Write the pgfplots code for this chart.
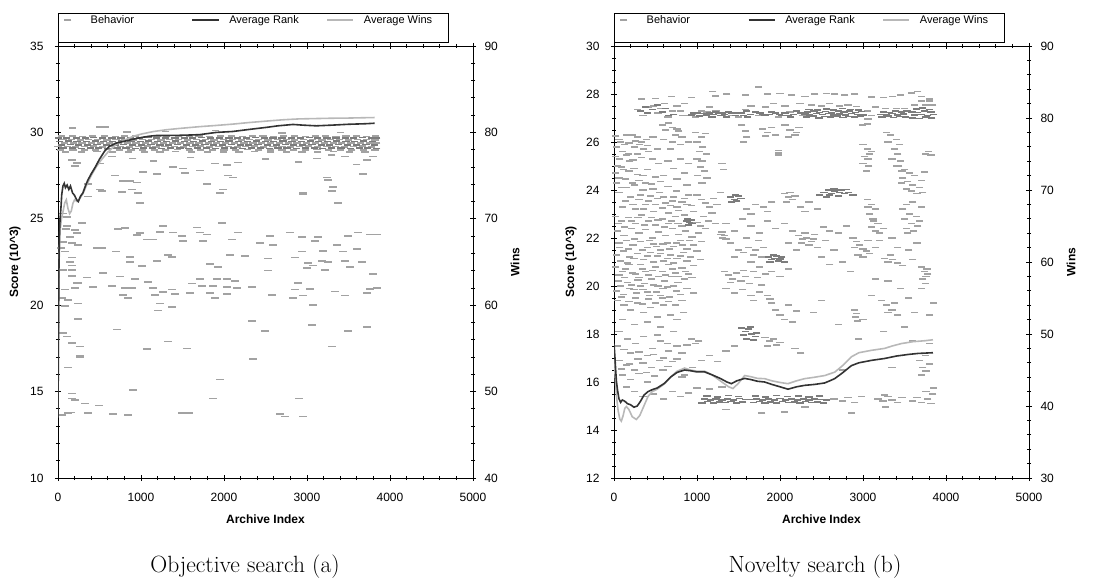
\documentclass[border=0pt]{standalone}
\usepackage{fontspec}
\usepackage{pgfplots}
\pgfplotsset{compat=1.18}
\newfontfamily\arial{Liberation Sans}

\definecolor{bhdark}{HTML}{7C7C7C}
\definecolor{bhlight}{HTML}{A2A2A2}
\definecolor{rankc}{HTML}{333333}
\definecolor{winsc}{HTML}{B8B8B8}

\pgfplotsset{
  panel/.style={
    scale only axis, width=415pt, height=432pt,
    xmin=0, xmax=5000, xtick={0,1000,...,5000}, minor x tick num=4,
    tick align=center, major tick length=6pt, minor tick length=4pt,
    tick style={black, line width=0.8pt},
    axis line style={line width=0.8pt},
    ticklabel style={font=\arial\fontsize{12}{14}\selectfont},
    /pgf/number format/assume math mode=true,
    /pgf/number format/1000 sep={},
    scaled ticks=false,
    xticklabel shift=9pt,
    label style={font=\arial\bfseries\fontsize{12}{14}\selectfont},
    xlabel style={at={(axis description cs:0.5,0)}, anchor=center, yshift=-41pt},
  },
  scoreax/.style={
    ytick pos=left, yticklabel shift=8pt,
    ylabel style={at={(axis description cs:-0.1036,0.5)}, anchor=center},
    legend columns=3,
    legend style={at={(0,1)}, anchor=west, yshift=26pt, xshift=-3.5pt,
      draw=none, fill=none, inner sep=0pt,
      font=\arial\fontsize{11}{13}\selectfont,
      /tikz/every odd column/.append style={column sep=8pt},
      /tikz/every even column/.append style={column sep=0pt}},
  },
  winsax/.style={
    axis x line=none, axis y line*=right, yticklabel shift=5pt,
    ylabel style={at={(axis description cs:1.1012,0.5)}, anchor=center},
  },
  legimg/.style={legend image code/.code={\path[draw=none,fill=none] (0pt,-4pt) rectangle (26pt,4pt);
    \draw[mark repeat=2,mark phase=2,##1] plot coordinates {(0pt,0pt)(13pt,0pt)(26pt,0pt)};}},
  behav/.style={only marks, mark=-, mark size=3.6pt, mark options={line width=1.6pt}, legimg},
  rankline/.style={rankc, line width=1.6pt, mark=none, legimg},
  winsline/.style={winsc, line width=1.6pt, mark=none, legimg},
}

\begin{document}
\begin{tikzpicture}
\path[use as bounding box] (0pt,0pt) rectangle (1102pt,581pt);

% ---------------- Objective search (a) ----------------
\begin{axis}[panel, scoreax, name=L1, at={(58pt,103pt)}, anchor=south west,
  ymin=10, ymax=35, ytick={10,15,...,35}, minor y tick num=4,
  xlabel={Archive Index}, ylabel={Score (10\textasciicircum 3)}]
\addplot[behav, bhlight] coordinates {
(40,29.78)(170,29.79)(300,29.77)(420,29.78)(560,29.8)(690,29.77)(800,29.78)(930,29.79)(1070,29.77)(1200,29.78)(1310,29.8)
(1450,29.77)(1580,29.78)(1700,29.79)(1830,29.77)(1960,29.78)(2090,29.8)(2220,29.77)(2340,29.78)(2470,29.79)(2600,29.77)
(2720,29.78)(2850,29.8)(2980,29.77)(3100,29.78)(3220,29.79)(3350,29.77)(3470,29.78)(3600,29.8)(3720,29.77)(3830,29.78)
(60,29.58)(160,29.59)(270,29.57)(370,29.58)(480,29.6)(590,29.57)(700,29.58)(800,29.59)(910,29.57)(1020,29.58)(1130,29.6)
(1240,29.57)(1340,29.58)(1450,29.59)(1560,29.57)(1670,29.58)(1780,29.6)(1880,29.57)(1990,29.58)(2100,29.59)(2210,29.57)
(2310,29.58)(2420,29.6)(2530,29.57)(2640,29.58)(2750,29.59)(2850,29.57)(2960,29.58)(3070,29.6)(3180,29.57)(3280,29.58)
(3390,29.59)(3500,29.57)(3610,29.58)(3720,29.6)(3820,29.57)
(80,29.38)(190,29.39)(290,29.37)(400,29.38)(510,29.4)(620,29.37)(730,29.38)(840,29.39)(940,29.37)(1050,29.38)(1160,29.4)
(1270,29.37)(1380,29.38)(1480,29.39)(1590,29.37)(1700,29.38)(1810,29.4)(1910,29.37)(2020,29.38)(2130,29.39)(2240,29.37)
(2350,29.38)(2450,29.4)(2560,29.37)(2670,29.38)(2780,29.39)(2880,29.37)(2990,29.38)(3100,29.4)(3210,29.37)(3320,29.38)
(3420,29.39)(3530,29.37)(3640,29.38)(3750,29.4)(3840,29.37)
(0,29.18)(110,29.19)(210,29.17)(320,29.18)(430,29.2)(540,29.17)(640,29.18)(750,29.19)(860,29.17)(970,29.18)(1080,29.2)
(1180,29.17)(1290,29.18)(1400,29.19)(1510,29.17)(1620,29.18)(1720,29.2)(1830,29.17)(1940,29.18)(2050,29.19)(2160,29.17)
(2260,29.18)(2370,29.2)(2480,29.17)(2590,29.18)(2700,29.19)(2800,29.17)(2910,29.18)(3020,29.2)(3130,29.17)(3240,29.18)
(3340,29.19)(3450,29.17)(3560,29.18)(3670,29.2)(3780,29.17)
(30,28.98)(180,28.99)(320,28.97)(450,28.98)(600,29.0)(740,28.97)(880,28.98)(1020,28.99)(1160,28.97)(1300,28.98)(1440,29.0)
(1580,28.97)(1720,28.98)(1860,28.99)(2000,28.97)(2140,28.98)(2280,29.0)(2420,28.97)(2560,28.98)(2700,28.99)(2840,28.97)
(2980,28.98)(3120,29.0)(3260,28.97)(3400,28.98)(3540,28.99)(3680,28.97)(3820,28.98)
(90,28.88)(280,28.87)(470,28.89)(660,28.88)(850,28.86)(1040,28.88)(1230,28.87)(1420,28.89)(1610,28.88)(1800,28.86)
(1990,28.88)(2180,28.87)(2370,28.89)(2560,28.88)(2750,28.86)(2940,28.88)(3130,28.87)(3320,28.89)(3510,28.88)(3700,28.86)
(170,30.25)(506,30.3)(831,30.02)(566,30.3)(1900,30.1)(3400,30.0)(2700,29.98)(1300,30.05)
(169,28.4)(205,28.06)(506,28.2)(1386,28.0)(2036,28.1)(3120,28.5)(3458,28.6)(3723,28.4)(3795,28.6)(229,28.23)
(1892,28.2)(2169,28.25)(900,28.5)(1150,28.35)(2500,28.45)(2900,28.3)(3600,28.15)(650,28.6)(1600,28.55)(3300,28.7)
(687,27.5)(867,27.2)(783,27.2)(952,27.1)(1193,27.6)(1506,27.9)(1530,27.65)(1711,27.8)(2048,27.5)(1795,27.0)
(2108,27.4)(3241,27.4)(3253,27.25)(1024,27.7)(361,27.0)(3675,27.6)
(3313,26.85)(2952,26.4)(506,26.7)(964,26.5)(1952,26.5)(3301,26.6)(530,26.6)(771,26.55)(892,26.7)(361,26.3)(2952,26.5)(1988,26.7)
(988,25.9)(3373,25.9)(60,25.3)(108,25.1)
(289,24.75)(229,24.17)(723,24.4)(807,24.47)(952,24.06)(988,24.17)(1229,24.25)(1265,24.6)(1386,24.2)(1494,24.0)
(1675,24.5)(1711,24.2)(1795,24.1)(1976,24.76)(2169,24.2)(2554,24.0)(2795,24.2)(2940,23.95)(3133,23.95)(3494,24.0)
(3614,24.2)(3759,24.1)(3843,24.1)(108,24.6)(96,24.4)(205,24.35)(145,23.95)
(1072,23.8)(1145,23.8)(1506,23.7)(1747,23.7)(2096,23.8)(2434,23.6)(2590,23.5)(3096,23.7)(3361,23.48)(470,23.3)
(530,23.3)(699,23.1)(2940,23.1)(3193,23.15)(3434,23.1)(3602,23.25)(60,23.65)(169,23.6)(241,23.5)(36,23.3)(84,23.1)
(1325,22.9)(2072,22.9)(2253,22.85)(867,22.8)(1193,22.57)(1373,22.8)(2530,22.7)(2855,22.75)(3458,22.57)(867,22.5)
(3012,22.44)(3072,22.3)(3181,22.57)(3253,22.5)(3663,22.5)(1831,22.38)(1928,22.2)(1012,22.27)(3000,22.15)(3217,22.05)
(3518,22.2)(2530,22.0)(169,22.75)(145,22.5)(169,22.3)(60,22.05)(169,22.05)
(349,21.6)(542,21.87)(747,21.65)(3795,21.8)(928,21.5)(1084,21.35)(1711,21.5)(1916,21.5)(2036,21.53)(2133,21.4)
(2892,21.3)(229,21.3)(422,21.05)(651,21.1)(807,21.0)(892,21.0)(1145,21.0)(1614,21.25)(1735,21.1)(1868,21.1)
(2036,21.05)(2157,21.0)(2337,21.05)(3759,20.95)(3843,21.0)(169,21.7)(205,21.0)(241,21.3)
(2855,20.9)(3036,20.94)(1169,20.6)(1265,20.77)(1373,20.9)(1410,20.65)(1590,20.7)(1831,20.7)(1892,20.4)(2036,20.65)
(2578,20.6)(2831,20.4)(2952,20.55)(3337,20.8)(3458,20.55)(3723,20.7)(783,20.6)(843,20.4)(48,20.4)(120,20.3)
(241,20.1)(1229,20.1)(3072,20.0)(84,20.9)
(84,19.95)(1373,19.9)(1205,19.7)(241,19.2)(2337,19.1)
(3060,18.85)(3723,18.75)(711,18.6)(2494,18.5)(3494,18.5)(60,18.4)(108,18.2)(169,17.8)(1325,17.9)(265,17.6)
(3301,17.6)(1072,17.46)(1554,17.5)(265,17.1)(265,17.0)(2349,16.9)
(120,16.4)(1952,15.7)(904,15.1)(169,14.9)(169,14.6)(205,14.5)(1868,14.6)(2904,14.6)(325,14.3)(494,14.2)
(48,13.65)(120,13.75)(157,13.8)(361,13.75)(663,13.7)(843,13.65)(1494,13.75)(1578,13.75)(2675,13.7)(2735,13.55)(2952,13.55)
};
\addlegendentry{\makebox[99pt][l]{Behavior}}
\addplot[behav, bhdark, forget plot] coordinates {
(10,29.68)(100,29.69)(220,29.67)(330,29.68)(430,29.7)(540,29.67)(650,29.68)(760,29.69)(870,29.67)(980,29.68)(1090,29.7)
(1190,29.67)(1300,29.68)(1410,29.69)(1520,29.67)(1620,29.68)(1730,29.7)(1840,29.67)(1950,29.68)(2060,29.69)(2160,29.67)
(2270,29.68)(2380,29.7)(2490,29.67)(2590,29.68)(2700,29.69)(2810,29.67)(2920,29.68)(3030,29.7)(3130,29.67)(3240,29.68)
(3350,29.69)(3460,29.67)(3560,29.68)(3670,29.7)(3780,29.67)(3840,29.68)
(20,29.48)(130,29.49)(230,29.47)(340,29.48)(450,29.5)(550,29.47)(660,29.48)(770,29.49)(880,29.47)(990,29.48)(1090,29.5)
(1200,29.47)(1310,29.48)(1420,29.49)(1520,29.47)(1630,29.48)(1740,29.5)(1850,29.47)(1960,29.48)(2060,29.49)(2170,29.47)
(2280,29.48)(2390,29.5)(2500,29.47)(2600,29.48)(2710,29.49)(2820,29.47)(2930,29.48)(3040,29.5)(3140,29.47)(3250,29.48)
(3360,29.49)(3470,29.47)(3570,29.48)(3680,29.5)(3790,29.47)
(40,29.28)(150,29.29)(250,29.27)(360,29.28)(470,29.3)(580,29.27)(690,29.28)(790,29.29)(900,29.27)(1010,29.28)(1120,29.3)
(1230,29.27)(1330,29.28)(1440,29.29)(1550,29.27)(1660,29.28)(1770,29.3)(1870,29.27)(1980,29.28)(2090,29.29)(2200,29.27)
(2300,29.28)(2410,29.3)(2520,29.27)(2630,29.28)(2740,29.29)(2840,29.27)(2950,29.28)(3060,29.3)(3170,29.27)(3270,29.28)
(3380,29.29)(3490,29.27)(3600,29.28)(3710,29.3)(3810,29.27)
(60,29.08)(170,29.09)(280,29.07)(390,29.08)(490,29.1)(600,29.07)(710,29.08)(820,29.09)(930,29.07)(1030,29.08)(1140,29.1)
(1250,29.07)(1360,29.08)(1470,29.09)(1570,29.07)(1680,29.08)(1790,29.1)(1900,29.07)(2010,29.08)(2110,29.09)(2220,29.07)
(2330,29.08)(2440,29.1)(2550,29.07)(2650,29.08)(2760,29.09)(2870,29.07)(2980,29.08)(3090,29.1)(3190,29.07)(3300,29.08)
(3410,29.09)(3520,29.07)(3630,29.08)(3730,29.1)(3840,29.07)
};
\addlegendimage{rankline}
\addlegendentry{\makebox[95pt][l]{Average Rank}}
\addlegendimage{winsline}
\addlegendentry{Average Wins}
\end{axis}

\begin{axis}[panel, winsax, at={(58pt,103pt)}, anchor=south west,
  ymin=40, ymax=90, ytick={40,50,...,90}, minor y tick num=4, ylabel={Wins}]
\addplot[winsline] coordinates {
(0,51)(5,57)(10,62)(15,66)(25,68.6)(40,69.9)(60,70.8)(80,71.8)(100,72.2)(120,71.2)(140,70.6)(160,70.9)(180,71.8)
(200,72.2)(230,72)(260,72.3)(300,72.9)(350,74)(400,75)(460,76)(520,76.8)(600,77.7)(700,78.6)(800,79.1)(904,79.54)
(1000,79.8)(1150,80.1)(1300,80.3)(1466,80.46)(1700,80.66)(1900,80.8)(2108,80.96)(2300,81.14)(2500,81.3)(2711,81.46)
(2900,81.56)(3100,81.6)(3300,81.64)(3500,81.66)(3700,81.7)(3815,81.72)
};
\end{axis}

\begin{axis}[panel, hide axis, at={(58pt,103pt)}, anchor=south west, ymin=10, ymax=35]
\addplot[rankline] coordinates {
(0,13.5)(4,17)(8,20)(12,22.5)(18,24.2)(25,25.0)(35,25.6)(45,26.4)(60,26.9)(75,27.05)(90,26.8)(110,26.95)(130,26.7)
(150,26.9)(175,26.5)(200,26.35)(225,26.1)(245,26.0)(270,26.3)(300,26.5)(330,26.9)(361,27.25)(400,27.6)(450,28.0)
(500,28.45)(560,28.9)(620,29.2)(700,29.38)(783,29.47)(900,29.6)(1000,29.7)(1100,29.78)(1185,29.82)(1300,29.82)
(1450,29.83)(1600,29.85)(1707,29.87)(1800,29.93)(1908,30.0)(2100,30.05)(2300,30.17)(2510,30.29)(2650,30.38)
(2831,30.46)(2950,30.42)(3112,30.38)(3300,30.42)(3500,30.47)(3700,30.5)(3815,30.53)
};
\end{axis}
\draw[line width=0.8pt] ([yshift=4pt]L1.north west) rectangle ++(390pt,29pt);

% ---------------- Novelty search (b) ----------------
\begin{axis}[panel, scoreax, name=R1, at={(614pt,103pt)}, anchor=south west,
  ymin=12, ymax=30, ytick={12,14,...,30}, minor y tick num=3,
  xlabel={Archive Index}, ylabel={Score (10\textasciicircum 3)}]
\addplot[behav, bhlight] coordinates {
(330,27.8)(500,27.82)(690,27.9)(1190,28.1)(1220,27.92)(1360,28.0)(1740,28.3)(1850,28.0)(2140,27.95)(2300,27.9)
(2420,28.0)(2560,28.02)(2660,28.0)(2780,27.96)(2900,28.0)(3100,27.88)(3250,27.85)(3360,27.9)(3450,27.95)(3580,28.05)
(3660,28.1)(3800,27.8)(3700,27.9)(930,27.85)(1580,27.95)(2000,28.02)
(280,27.35)(350,27.1)(420,27.45)(480,27.5)(530,27.2)(560,27.4)(610,27.6)(650,27.05)(700,27.3)(760,27.5)(800,27.3)
(830,27.1)(850,27.6)(900,27.1)(940,27.15)(980,27.05)(1050,27.3)(1120,27.25)(1150,27.45)(1230,27.3)(1300,27.1)
(1420,27.1)(1500,27.05)(1580,27.35)(1650,27.5)(1740,27.1)(1830,27.45)(1920,27.6)(1980,27.05)(2060,27.5)(2120,27.25)
(2240,27.6)(2270,27.1)(2380,27.55)(2500,27.5)(2600,27.6)(2720,27.5)(2820,27.55)(2920,27.48)(3050,27.3)(3100,27.1)
(3150,27.45)(3060,26.95)(3270,27.4)(3400,27.4)(3500,27.4)(3620,27.55)(3760,27.55)(3840,27.55)(3700,27.7)(3800,27.7)
(20,26.25)(60,26.1)(30,25.8)(100,25.6)(20,25.4)(70,25.3)(40,25.0)(110,24.85)(20,24.7)(60,24.5)(30,24.3)(90,24.1)
(130,25.9)(150,26.3)(170,25.5)(190,25.2)
(220,26.3)(280,26.2)(330,26.0)(390,26.1)(250,25.8)(310,25.9)(360,25.7)(420,25.6)(280,25.5)(240,24.9)(350,24.6)(300,24.4)
(580,26.7)(620,26.5)(660,26.8)(700,26.6)(740,26.3)(780,26.45)(820,26.2)(600,26.1)(700,26.0)(760,26.55)
(980,26.4)(1050,26.2)(1100,26.35)(1000,26.0)(1070,25.8)(1030,25.6)(1110,25.5)(1000,25.3)(1060,25.2)(1040,24.95)
(1090,24.8)(1010,24.6)(1120,24.5)(1060,24.3)(1300,25.1)(1320,24.85)
(1540,26.7)(1580,26.45)(1600,26.2)(1560,26.0)(1790,26.55)(1850,26.4)(1900,26.6)(1950,26.3)(1830,26.25)
(1980,25.45)(1980,25.55)(1980,25.65)(2060,26.7)(2120,26.5)(2200,26.4)(2230,26.6)(2100,26.2)(2180,26.3)
(2990,26.7)(3050,26.75)(3000,25.9)(3050,25.7)(3080,25.5)(3020,25.4)(3060,25.3)(3000,25.1)(3070,25.0)(3040,24.8)(3100,25.6)
(3280,26.4)(3330,26.3)(3400,26.1)(3440,25.9)(3300,26.0)(3380,25.7)(3420,25.5)(3350,25.3)(3450,25.2)(3400,25.0)(3470,24.8)
(3430,25.0)(3500,24.85)(3560,24.7)(3620,24.6)(3480,24.5)(3540,24.35)(3600,24.2)(3680,24.1)(3520,24.05)(3580,23.95)
(3650,23.85)(3720,23.9)(3700,24.4)(3740,24.75)(3750,25.5)(3820,25.45)(3790,25.6)
(80,26.0)(180,25.95)(260,26.05)(400,25.85)(470,26.2)(520,25.7)(150,25.45)(230,25.25)(330,25.35)(460,25.3)(540,25.1)
(90,24.95)(180,24.8)(280,24.65)(400,24.85)(500,24.55)(560,24.35)(140,24.45)(220,24.3)(380,24.3)(470,24.05)(600,24.6)
(650,25.2)(720,24.9)(800,25.3)(850,24.7)(900,25.1)(760,24.45)(880,24.2)(680,25.7)(800,25.9)(900,26.0)
(30,24.3)(150,24.1)(250,24.2)(350,24.0)(450,24.25)(550,23.9)(650,24.15)(750,23.95)(200,23.7)(320,23.8)(420,23.55)
(520,23.65)(620,23.45)(720,23.7)(820,23.5)(900,23.8)(100,23.3)(260,23.2)(380,23.4)(480,23.1)(580,23.25)(680,23.35)
(780,23.15)(880,23.4)(960,23.1)(1050,23.6)(1150,23.3)(1200,23.65)(1280,23.9)
(60,23.9)(140,23.55)(230,23.4)(300,23.6)(360,23.2)(440,23.75)(500,23.4)(600,23.7)(660,23.05)(700,23.55)(760,23.3)
(850,23.65)(930,23.35)(1000,23.8)(1100,23.45)(1180,23.05)(1240,23.4)(50,22.6)(130,22.45)(210,22.7)(290,22.85)
(370,22.55)(450,22.85)(530,22.75)(610,22.45)(690,22.7)(770,22.6)(850,22.95)(1040,22.5)(1140,22.7)(1220,22.6)
(2050,23.85)(2100,23.7)(2150,23.6)(2080,23.5)(2180,23.75)(2120,23.9)
(1600,23.2)(1700,23.4)(1800,23.3)(1900,23.5)(1650,23.0)(1850,23.1)(2250,23.3)(2350,23.5)(2450,23.2)(2300,23.1)
(3050,23.6)(3100,23.4)(3150,23.2)(3080,23.0)(3120,22.8)(3180,22.6)(3100,22.45)(3150,22.3)(3200,22.2)(3130,22.7)(3060,23.3)
(3460,24.3)(3520,23.4)(3600,23.5)(3480,23.2)(3560,23.0)(3640,22.9)(3500,22.8)(3580,22.6)(3660,22.5)(3520,22.4)
(3610,22.3)(3700,23.3)(3540,22.2)(3680,22.7)
(20,22.9)(90,22.7)(170,22.85)(260,22.6)(330,22.95)(420,22.7)(500,22.55)(580,22.8)(660,22.6)(740,22.9)(820,22.5)
(1000,22.65)(1080,22.9)
(40,22.3)(120,22.1)(210,22.4)(300,22.2)(380,22.35)(460,22.0)(540,22.25)(620,22.1)(700,22.4)(780,22.15)(860,22.3)
(940,22.05)(1020,22.2)(1100,22.4)
(60,21.8)(150,21.9)(230,21.7)(320,21.85)(400,21.6)(480,21.75)(560,21.5)(640,21.8)(720,21.65)(800,21.9)(880,21.55)
(960,21.7)(1050,21.85)
(30,21.3)(110,21.45)(190,21.2)(280,21.35)(360,21.1)(440,21.4)(520,21.25)(600,21.05)(680,21.3)(760,21.15)(840,21.4)(920,21.2)
(70,21.6)(170,21.55)(250,21.95)(340,21.5)(430,21.9)(510,21.65)(590,21.75)(670,21.55)(750,21.8)(830,21.7)(910,21.9)
(1000,21.45)(80,21.05)(160,20.95)(240,21.15)(320,20.9)(400,21.25)(480,21.0)(560,21.35)(640,21.15)(720,20.95)
(800,21.25)(880,21.05)(960,20.85)(1040,21.1)
(1300,22.25)(1330,22.1)(1350,21.95)(1310,22.0)(1290,22.15)
(1560,21.4)(1620,21.6)(1680,21.3)(1740,21.9)(1700,21.5)(1780,21.2)
(1350,22.6)(1450,22.3)(1550,22.8)(1650,22.5)(1750,22.2)(1850,22.7)(1950,22.4)(2050,22.6)(2150,22.3)(1400,21.8)
(1500,21.5)(1600,22.0)(1800,21.6)(2100,21.8)(2200,21.5)(1450,21.2)(1650,21.0)(1750,20.8)(1900,20.6)(2000,20.4)
(2100,20.7)(1350,19.9)(1450,19.7)(1550,19.85)(1650,19.6)(1750,19.75)(1680,19.4)
(2220,22.1)(2270,21.95)(2320,22.0)(2380,21.85)(2260,21.8)(2420,22.15)(2300,22.2)(2350,21.7)(2400,21.95)
(2880,22.0)(2920,21.85)(2960,21.7)(3000,21.55)(3040,21.45)(2940,21.3)(3000,21.2)(3060,21.9)(2900,21.6)(3080,21.35)
(3260,21.15)(3300,21.0)(3360,21.1)(3420,20.95)(3480,20.85)(3330,21.3)(2520,22.45)(2600,22.3)
(2450,21.6)(2550,21.9)(2650,21.5)(2500,21.2)(2600,20.9)(2700,22.2)(2800,22.5)(2750,21.0)(2850,20.6)(3150,21.6)
(3200,21.9)(3250,22.4)(3350,22.0)(3420,21.6)(3550,21.5)(3600,21.1)(3650,21.8)(3150,20.3)(3300,20.2)(3450,19.9)
(3550,19.5)(3100,19.6)(3620,18.9)(3500,18.3)(3250,18.1)(2950,17.8)(2700,18.4)(2500,19.4)(2400,18.9)(3800,18.8)
(3850,19.3)(3600,17.7)(3800,17.6)
(20,20.8)(100,20.6)(180,20.9)(260,20.5)(340,20.7)(420,20.45)(500,20.8)(580,20.6)(660,20.9)(740,20.55)(820,20.75)(900,20.5)
(50,20.2)(130,20.35)(210,20.05)(290,20.25)(370,20.1)(450,20.3)(530,20.0)(610,20.2)(690,20.4)(770,20.15)(850,20.3)
(30,19.8)(110,19.65)(190,19.9)(270,19.7)(350,19.85)(430,19.6)(510,19.75)(590,19.9)(670,19.55)(750,19.8)
(60,20.45)(140,20.7)(220,20.55)(300,20.35)(380,20.6)(460,20.65)(540,20.4)(620,20.45)(700,20.7)(780,20.4)(860,20.6)
(940,20.35)(80,20.0)(160,20.15)(240,19.85)(320,20.0)(400,19.75)(480,20.05)(560,19.6)(640,19.95)(720,20.0)(800,19.65)
(880,19.9)(960,19.7)(90,19.55)(180,19.35)(260,19.5)(340,19.25)(420,19.45)(500,19.3)(580,19.5)(660,19.35)(740,19.2)(820,19.4)
(1330,20.6)(1380,20.45)(1430,20.3)(1480,20.55)(1530,20.2)(1580,20.4)(1630,20.1)(1680,20.6)(1730,20.35)(1780,20.05)
(1830,20.5)(1400,20.15)(1560,20.65)
(3700,20.8)(3740,20.6)(3760,20.4)(3720,20.3)(3780,20.5)(3750,20.1)(3700,19.9)(3770,20.7)
(1850,19.6)(1900,19.3)(1950,19.0)(2000,18.8)(2100,19.2)(2200,18.95)(2050,18.6)(2150,18.5)(1880,19.45)
(2900,19.0)(2920,18.85)(2910,18.7)(2930,18.55)(3000,18.6)(3220,19.4)(3280,19.2)(3350,19.0)(3300,18.9)(3420,18.8)(3380,19.3)
(40,19.4)(120,19.2)(200,19.0)(280,19.3)(360,18.9)(440,19.1)(520,18.7)(600,19.2)(680,18.8)(760,18.6)(840,18.9)
(100,18.6)(250,18.4)(400,18.5)(560,18.3)
(1820,17.85)(1870,17.7)(1920,17.8)(1960,17.55)(2000,17.65)(1850,17.5)(930,17.8)(980,17.6)(1020,17.7)
(60,18.1)(160,17.8)(260,17.6)(360,17.9)(460,17.4)(560,17.7)(660,17.3)(760,17.5)(200,17.2)(400,17.1)(600,17.0)
(40,17.5)(120,17.35)(300,17.25)(480,17.15)(520,17.95)(640,17.6)(720,18.1)(820,17.2)(880,17.55)
(2180,17.4)(2250,17.2)
(90,16.55)(190,16.75)(290,16.95)(390,16.4)(490,16.25)(590,16.5)(650,16.65)(760,16.95)(850,16.3)(950,16.6)
(1050,16.9)(1150,17.1)(1250,16.85)(1350,17.3)(1450,17.5)(1150,15.7)(1000,15.75)(1300,15.8)
(60,16.9)(150,16.7)(250,16.5)(350,16.8)(450,16.6)(550,16.9)(100,16.3)(200,16.1)(300,16.35)(400,16.0)(150,15.8)
(250,15.6)(350,15.4)(480,15.5)(600,15.3)(700,15.6)(800,15.4)(900,15.55)(700,16.85)(820,16.2)
(2650,15.3)(2750,15.2)(2820,15.35)(2900,15.15)(2980,15.4)
(3180,15.3)(3240,15.2)(3300,15.4)(3350,15.25)(3420,15.15)(3470,15.35)(3260,15.45)
(3600,15.2)(3650,15.35)(3700,15.15)(3780,15.3)(3840,15.5)(3820,15.1)(3760,15.6)(3850,15.75)
(1780,14.7)(2050,14.75)(2860,14.72)(3270,14.95)(1350,14.85)(2300,14.95)
(3680,16.9)(3720,16.6)(3760,16.45)(3700,16.3)(3800,16.75)(3750,17.1)(2750,16.5)(3350,16.6)
};
\addlegendentry{\makebox[99pt][l]{Behavior}}
\addplot[behav, bhdark, forget plot] coordinates {
(2320,27.03)(2400,27.08)(2470,27.01)(2540,27.06)(2610,27.03)(2690,27.09)(2760,27.02)(2830,27.07)(2900,27.04)(2970,27.08)
(2300,27.16)(2360,27.12)(2440,27.19)(2510,27.14)(2580,27.18)(2650,27.13)(2720,27.17)(2790,27.12)(2860,27.19)(2940,27.15)(3010,27.13)
(2330,27.24)(2410,27.29)(2480,27.23)(2550,27.27)(2620,27.22)(2700,27.28)(2770,27.25)(2840,27.3)(2910,27.23)(2980,27.27)
(2350,27.36)(2450,27.33)(2560,27.38)(2640,27.34)(2750,27.39)(2850,27.35)(2950,27.33)
(3230,27.04)(3300,27.08)(3370,27.02)(3440,27.07)(3510,27.03)
(3210,27.15)(3280,27.12)(3350,27.18)(3420,27.13)(3490,27.17)
(3250,27.26)(3320,27.23)(3390,27.29)(3460,27.24)(3530,27.28)
(3600,27.01)(3680,26.98)(3760,27.03)(3830,27.0)
(3620,27.12)(3700,27.15)(3780,27.1)(3850,27.14)
(3590,27.26)(3660,27.23)(3740,27.28)(3820,27.24)
(3640,27.38)(3720,27.42)(3800,27.36)
(1000,27.2)(1080,27.1)(1200,27.15)(1260,27.2)(1330,27.15)(1380,27.25)(1460,27.1)(1540,27.2)(1610,27.05)(1700,27.25)
(1790,27.15)(1870,27.15)(1950,27.2)(2020,27.1)(2100,27.1)(2160,27.15)(2200,27.3)(660,27.1)(720,27.15)
(320,27.3)(380,27.45)(400,27.2)(460,27.35)(520,27.55)(580,27.25)(620,27.4)(930,27.12)(960,27.22)(1030,27.08)
(1060,27.18)(1110,27.12)(1150,27.2)(1180,27.05)(1220,27.25)(1290,27.1)(1310,27.22)(1360,27.05)(1420,27.2)(1480,27.22)
(1560,27.1)(1600,27.3)(1640,27.15)(1760,27.2)(1820,27.1)(1900,27.25)(1990,27.15)(2060,27.22)(2130,27.05)(2250,27.2)
(880,22.7)(910,22.65)(930,22.75)(900,22.55)(940,22.6)(890,22.8)
(1400,23.7)(1450,23.6)(1500,23.75)(1420,23.5)(1480,23.55)(1530,23.65)(1460,23.8)
(2480,23.8)(2530,23.9)(2580,24.0)(2620,23.85)(2660,23.95)(2700,23.75)(2740,24.0)(2780,23.85)(2830,23.9)(2880,23.78)
(2560,23.72)(2650,24.05)(2720,23.9)(2800,24.02)(2600,23.8)
(1860,21.2)(1900,21.1)(1940,21.15)(1980,21.05)(2020,21.2)(1880,21.0)(1960,21.25)(2000,21.12)(1920,21.3)(2050,21.0)
(1540,18.25)(1580,18.1)(1620,18.2)(1660,18.0)(1700,17.9)(1560,17.95)(1600,17.8)(1640,18.3)(1680,17.75)(1720,18.05)
(1060,15.13)(1130,15.18)(1200,15.12)(1270,15.17)(1340,15.14)(1410,15.19)(1480,15.13)(1550,15.16)
(1090,15.28)(1160,15.24)(1230,15.3)(1300,15.26)(1370,15.29)(1440,15.25)(1510,15.31)(1580,15.27)
(1120,15.41)(1250,15.38)(1380,15.43)(1500,15.39)
(1680,15.14)(1750,15.18)(1820,15.12)(1890,15.17)(1960,15.13)(2030,15.19)(2100,15.14)(2170,15.17)(2240,15.12)
(2310,15.18)(2380,15.14)(2450,15.16)(2520,15.13)
(1650,15.27)(1720,15.3)(1790,15.25)(1860,15.29)(1930,15.26)(2000,15.31)(2070,15.24)(2140,15.28)(2210,15.26)
(2280,15.3)(2350,15.25)(2420,15.29)(2490,15.27)(2560,15.24)
(1700,15.41)(1830,15.38)(1960,15.43)(2090,15.39)(2220,15.42)(2350,15.38)(2480,15.41)
};
\addlegendimage{rankline}
\addlegendentry{\makebox[95pt][l]{Average Rank}}
\addlegendimage{winsline}
\addlegendentry{Average Wins}
\end{axis}

\begin{axis}[panel, winsax, at={(614pt,103pt)}, anchor=south west,
  ymin=30, ymax=90, ytick={30,40,...,90}, minor y tick num=4, ylabel={Wins}]
\addplot[winsline] coordinates {
(0,46.67)(15,44.0)(30,41.33)(50,39.33)(70,38.17)(88,37.9)(110,38.67)(130,39.67)(149,39.93)(180,39.5)(220,38.5)
(269,38.13)(310,38.67)(360,40.0)(410,41.33)(460,42.0)(520,42.33)(610,43.1)(680,44.0)(760,44.83)(851,45.27)
(920,45.0)(1000,44.83)(1092,44.83)(1180,44.33)(1280,43.5)(1380,42.67)(1434,42.43)(1500,43.17)(1574,44.23)
(1650,44.07)(1730,43.83)(1815,43.8)(1900,43.5)(2000,43.27)(2096,43.1)(2200,43.5)(2297,43.8)(2420,44.0)
(2538,44.23)(2659,44.7)(2760,45.67)(2859,46.83)(2950,47.4)(3100,47.73)(3261,48.0)(3350,48.33)(3462,48.67)
(3600,48.93)(3750,49.07)(3843,49.2)
};
\end{axis}

\begin{axis}[panel, hide axis, at={(614pt,103pt)}, anchor=south west, ymin=12, ymax=30]
\addplot[rankline] coordinates {
(0,17.6)(10,17.1)(20,16.5)(30,16.0)(45,15.6)(60,15.3)(80,15.15)(100,15.25)(130,15.2)(160,15.1)(200,15.05)
(240,14.95)(280,15.0)(320,15.2)(360,15.45)(410,15.6)(460,15.68)(520,15.75)(610,15.95)(680,16.2)(760,16.4)
(851,16.5)(920,16.47)(1000,16.42)(1092,16.42)(1180,16.3)(1280,16.15)(1360,16.0)(1414,15.93)(1480,16.05)
(1574,16.15)(1650,16.1)(1730,16.03)(1815,16.0)(1900,15.9)(2000,15.8)(2096,15.7)(2200,15.8)(2297,15.86)
(2420,15.9)(2538,15.96)(2600,16.05)(2659,16.14)(2760,16.4)(2859,16.68)(2950,16.8)(3100,16.9)(3261,16.98)
(3400,17.08)(3550,17.15)(3663,17.19)(3843,17.22)
};
\end{axis}
\draw[line width=0.8pt] ([yshift=4pt]R1.north west) rectangle ++(390pt,29pt);

\node[font=\fontsize{23.5}{28}\selectfont] at (245pt,14pt) {Objective search (a)};
\node[font=\fontsize{23.5}{28}\selectfont] at (815pt,14pt) {Novelty search (b)};
\end{tikzpicture}
\end{document}
